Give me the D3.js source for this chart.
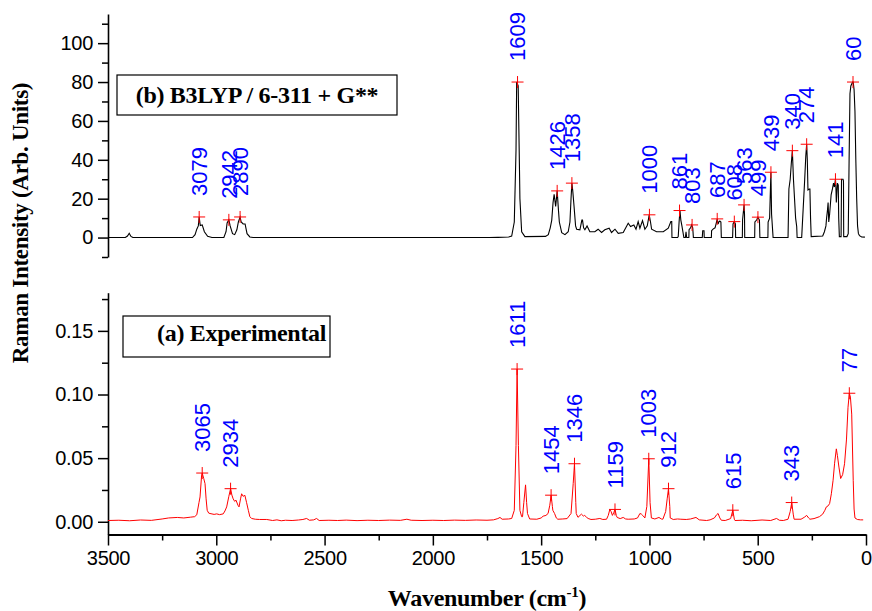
<!DOCTYPE html>
<html lang="en">
<head>
<meta charset="utf-8">
<title>Raman spectra</title>
<script src="https://cdn.jsdelivr.net/npm/d3@7"></script>
<style>
  body { margin: 0; background: #fff; }
  svg { display: block; }
</style>
</head>
<body>
<script>
// calculated spectrum (b) : wavenumber / intensity
var calcWn  = [3500,3420,3410,3402,3394,3385,3110,3098,3090,3083,3079,3074,3065,3055,3040,3020,
  2965,2955,2950,2942,2936,2925,2915,2905,2898,2890,2885,2876,2867,2858,2845,2830,
  1740,1700,1650,1636,1624,1616,1613,1606,1600,1598,1590,1575,
  1480,1467,1458,1451,1445,1440,1433,1426,1420,1416,1405,1390,1375,1367,1362,1358,1354,1348,1341,1336,
  1321,1312,1309,1304,1298,1288,1275,1252,1237,1221,1206,1186,1175,1159,1144,1121,1098,1087,1072,1062,
  1052,1044,1032,1021,1010,1001,995,990,967,936,913,901,897,896,
  870,867,863,859,855,850,844,841,834,831,828,818,817,810,805,800,797,
  756,754,748,747,714,713,705,697,690,687,683,680,675,670,668,
  616,614,608,603,602,571,570,563,561,560,514,513,505,499,492,490,
  453,452,445,440,439,436,429,360,356,350,345,340,335,325,320,318,
  297,290,283,278,274,271,268,262,259,256,253,
  200,192,185,182,178,175,172,168,161,155,150,146,141,139,137,134,132,128,126,123,
  115,113,106,104,103,88,82,78,74,70,66,62,59,55,51,47,43,39,35,30,20,5];
var calcInt = [0,0,0.8,2.2,0.6,0,0,1.5,4.3,6,10.6,6.2,6.5,3,0.6,0,
  0,3,7.5,9.1,6,2,1.5,4,8,10.6,8,7,7,2,0.3,0,
  0,0.1,0.3,0.8,8,45,80,78,35,20,3,0.5,
  0.6,1.5,5,9,18,22.3,16,24,14,8,2.5,1.5,3,8,20,28,24,16,6,4.3,
  4,9,9,5,4,6,3,3,4.3,2.6,4,4.8,2.6,4.3,2.2,2.6,7.4,5.7,6.5,4.3,
  8.2,4.8,8.7,4.3,6,11.7,8,4.3,3,3,4.8,8.2,8.2,0,
  0,0.5,8,13.9,9,6,2,0,0,3,0,0,4,5,6.5,5,0,
  0,3.5,3.5,0,0,3.5,4.5,5,8,9.6,7,8,8.5,8,0,
  0,7,8.2,7,0,0,9,16.8,12,0,0,8,9,10.5,9,0,
  0,8,10,30,33.6,12,0,0,25,30,38,44.7,30,10,5.7,0,
  0,15,30,42,48,40,24.5,25,25,10,0.5,
  0.8,3,6,10,14,18,8,12,22,25,28,26,30,26,18,24,28,27,10,0.5,
  0.5,30,30,29,0.5,0.5,2,40,74,78,79,80,80,76,65,40,20,6,2,1,0.3,0.2];

// experimental spectrum (a)
var expWn  = [3500,3450,3400,3350,3300,3250,3220,3180,3150,3120,3100,3090,3080,3075,3068,3065,3058,3052,3047,3042,
  3035,3029,3010,2998,2985,2968,2960,2952,2942,2934,2928,2922,2915,2909,2900,2895,2888,2883,2876,2868,
  2860,2852,2845,2837,2820,2800,2767,2740,2720,2700,2680,2650,2620,2600,2583,2570,2550,2537,2525,2480,
  2440,2400,2350,2300,2250,2200,2150,2120,2100,2050,2000,1950,1900,1850,1800,1750,1720,1700,1690,1680,
  1650,1636,1624,1616,1611,1605,1598,1590,1586,1580,1572,1567,1563,1553,1520,1500,1491,1478,1468,1460,
  1454,1448,1446,1438,1430,1423,1400,1380,1362,1352,1346,1340,1338,1330,1314,1305,1299,1290,1283,1270,
  1250,1229,1215,1198,1190,1183,1177,1171,1165,1159,1153,1149,1135,1121,1110,1098,1070,1055,1044,1037,
  1031,1021,1012,1003,997,991,975,956,945,938,925,918,912,906,904,890,870,855,830,810,
  785,770,736,720,700,690,683,675,668,650,625,615,608,605,570,530,480,440,413,400,
  382,360,350,343,336,332,300,285,274,265,259,240,215,200,190,183,175,168,160,152,
  145,137,132,125,117,108,99,90,83,77,72,66,59,55,51,40,25,13];
var expInt = [0.0010,0.0012,0.0008,0.0014,0.0011,0.0022,0.0030,0.0034,0.0030,0.0036,0.0040,0.0055,0.015,0.0195,0.036,0.0383,0.034,0.030,0.018,0.009,
  0.0068,0.0065,0.0058,0.0062,0.0056,0.0062,0.0085,0.0117,0.020,0.026,0.021,0.018,0.016,0.017,0.013,0.0117,0.018,0.022,0.020,0.0208,
  0.015,0.009,0.004,0.0026,0.0020,0.0018,0.0018,0.0010,0.0015,0.0008,0.0012,0.0010,0.0014,0.0018,0.0026,0.0012,0.0015,0.0026,0.0010,0.0012,
  0.0010,0.0013,0.0009,0.0012,0.0010,0.0013,0.0011,0.0020,0.0012,0.0010,0.0012,0.0010,0.0013,0.0011,0.0014,0.0012,0.0015,0.0025,0.0034,0.0020,
  0.0022,0.0026,0.009,0.06,0.12,0.06,0.009,0.004,0.004,0.015,0.029,0.015,0.0065,0.0022,0.0020,0.0030,0.0044,0.0050,0.0065,0.013,
  0.0209,0.012,0.009,0.0065,0.003,0.0020,0.0022,0.0025,0.0065,0.030,0.0456,0.015,0.0065,0.0035,0.0060,0.0045,0.0050,0.0035,0.0026,0.0018,
  0.0020,0.0026,0.0018,0.0020,0.0050,0.0096,0.0080,0.0050,0.0070,0.0097,0.0050,0.0034,0.0025,0.0034,0.0022,0.0020,0.0022,0.0030,0.0065,0.0060,
  0.0050,0.0030,0.012,0.0495,0.015,0.0030,0.0022,0.0034,0.0022,0.0020,0.008,0.018,0.026,0.012,0.0030,0.0018,0.0022,0.0020,0.0018,0.0022,
  0.0034,0.0015,0.0010,0.0015,0.0030,0.0055,0.0065,0.0030,0.0012,0.0010,0.0025,0.0091,0.0020,0.0010,0.0012,0.0008,0.0014,0.0010,0.0026,0.0012,
  0.0010,0.0020,0.008,0.0151,0.006,0.0020,0.0020,0.0035,0.0050,0.0030,0.0020,0.0025,0.0040,0.0060,0.0090,0.0117,0.0125,0.0143,0.022,0.0326,
  0.046,0.0573,0.052,0.043,0.034,0.037,0.0456,0.065,0.090,0.101,0.098,0.0846,0.0326,0.010,0.0030,0.0018,0.0015,0.0015];

// picked peaks
var calcPeakWn  = [3079,2942,2890,1609,1426,1358,1000,861,803,687,608,563,499,439,340,274,141,60];
var calcPeakInt = [10.6,9.1,10.6,80,24,28,11.7,13.9,6.5,9.6,8.2,16.8,10.5,33.6,44.7,48,30,80];
var expPeakWn   = [3065,2934,1611,1454,1346,1159,1003,912,615,343,77];
var expPeakInt  = [0.0383,0.026,0.12,0.0209,0.0456,0.0097,0.0495,0.026,0.0091,0.0151,0.101];

var xTicks = [3500,3000,2500,2000,1500,1000,500,0];
var xMinor = [3250,2750,2250,1750,1250,750,250];
var topTicks = [0,20,40,60,80,100];
var topMinor = [-10,10,30,50,70,90,110];
var botTicks = [0,0.05,0.10,0.15];
var botMinor = [0.025,0.075,0.125,0.175];

var w = 872, h = 611;
var tickFont = "'Liberation Sans', Arial, sans-serif";
var serif = "'Liberation Serif', 'Times New Roman', serif";

var svg = d3.select("body").append("svg")
  .attr("width", w)
  .attr("height", h);

var x = d3.scaleLinear().domain([3500, 0]).range([108, 866]);
var yTop = d3.scaleLinear().domain([-10, 115]).range([257, 14]);
var yBot = d3.scaleLinear().domain([-0.01, 0.18]).range([534.5, 292.7]);

function styleAxis(g) {
  g.attr("font-family", tickFont).attr("font-size", 20);
  g.selectAll("text").attr("fill", "#000").attr("letter-spacing", -0.3);
  g.selectAll("line").attr("stroke", "#000").attr("stroke-width", 1.5);
}

// y axes
function yAxis(scale, major, minor, fmt) {
  svg.append("g")
    .attr("transform", "translate(108,0)")
    .call(d3.axisLeft(scale).tickValues(minor).tickSize(6).tickSizeOuter(0).tickFormat(""))
    .call(styleAxis)
    .select(".domain").attr("stroke", "#000").attr("stroke-width", 1.6);
  svg.append("g")
    .attr("transform", "translate(108,0)")
    .call(d3.axisLeft(scale).tickValues(major).tickSize(10).tickPadding(5).tickFormat(fmt))
    .call(styleAxis)
    .select(".domain").remove();
}
yAxis(yTop, topTicks, topMinor, d3.format("d"));
yAxis(yBot, botTicks, botMinor, d3.format(".2f"));

// x axis (bottom panel only)
svg.append("g")
  .attr("transform", "translate(0,534.5)")
  .call(d3.axisBottom(x).tickValues(xMinor).tickSize(6).tickSizeOuter(0).tickFormat(""))
  .call(styleAxis)
  .select(".domain").attr("stroke", "#000").attr("stroke-width", 2);
svg.append("g")
  .attr("transform", "translate(0,534.5)")
  .call(d3.axisBottom(x).tickValues(xTicks).tickSize(11).tickPadding(5).tickFormat(d3.format("d")))
  .call(styleAxis)
  .select(".domain").remove();

// spectra
var calcData = calcWn.map(function(d, i) { return [d, calcInt[i]]; });
var expData = expWn.map(function(d, i) { return [d, expInt[i]]; });

svg.append("path")
  .datum(calcData)
  .attr("fill", "none")
  .attr("stroke", "#000")
  .attr("stroke-width", 1.1)
  .attr("d", d3.line().x(function(d) { return x(d[0]); }).y(function(d) { return yTop(d[1]); }));

svg.append("path")
  .datum(expData)
  .attr("fill", "none")
  .attr("stroke", "#ff0000")
  .attr("stroke-width", 1)
  .attr("d", d3.line().x(function(d) { return x(d[0]); }).y(function(d) { return yBot(d[1]); }));

// peak markers + labels
function peaks(wns, vals, yScale) {
  var g = svg.append("g");
  wns.forEach(function(wn, i) {
    var px = x(wn), py = yScale(vals[i]);
    g.append("line").attr("x1", px - 6).attr("x2", px + 6).attr("y1", py).attr("y2", py)
      .attr("stroke", "#ff0000").attr("stroke-width", 1);
    g.append("line").attr("x1", px).attr("x2", px).attr("y1", py - 6).attr("y2", py + 6)
      .attr("stroke", "#ff0000").attr("stroke-width", 1);
    g.append("text")
      .attr("transform", "translate(" + px + "," + (py - 21) + ") rotate(-90)")
      .attr("dy", "0.35em")
      .attr("font-family", tickFont)
      .attr("font-size", 22)
      .attr("fill", "#0000ff")
      .text(wn);
  });
}
peaks(calcPeakWn, calcPeakInt, yTop);
peaks(expPeakWn, expPeakInt, yBot);

// legend boxes
svg.append("rect").attr("x", 117).attr("y", 75).attr("width", 280).attr("height", 40)
  .attr("fill", "#fff").attr("stroke", "#000").attr("stroke-width", 1.2);
svg.append("text").attr("x", 257).attr("y", 103)
  .attr("text-anchor", "middle")
  .attr("font-family", serif).attr("font-weight", "bold").attr("font-size", 24)
  .attr("letter-spacing", -0.3)
  .text("(b) B3LYP / 6-311 + G**");

svg.append("rect").attr("x", 123).attr("y", 316).attr("width", 207).attr("height", 41)
  .attr("fill", "#fff").attr("stroke", "#000").attr("stroke-width", 1.2);
svg.append("text").attr("x", 157).attr("y", 341)
  .attr("font-family", serif).attr("font-weight", "bold").attr("font-size", 24)
  .attr("letter-spacing", -0.3)
  .text("(a) Experimental");

// axis titles
svg.append("text")
  .attr("transform", "translate(28,223) rotate(-90)")
  .attr("text-anchor", "middle")
  .attr("font-family", serif).attr("font-weight", "bold").attr("font-size", 23)
  .attr("letter-spacing", -0.3)
  .text("Raman Intensity (Arb. Units)");

var xt = svg.append("text")
  .attr("x", 487).attr("y", 606)
  .attr("text-anchor", "middle")
  .attr("font-family", serif).attr("font-weight", "bold").attr("font-size", 24)
  .attr("letter-spacing", -0.3);
xt.append("tspan").text("Wavenumber (cm");
xt.append("tspan").attr("dy", -9).attr("font-size", 15).text("-1");
xt.append("tspan").attr("dy", 9).text(")");
</script>
</body>
</html>
